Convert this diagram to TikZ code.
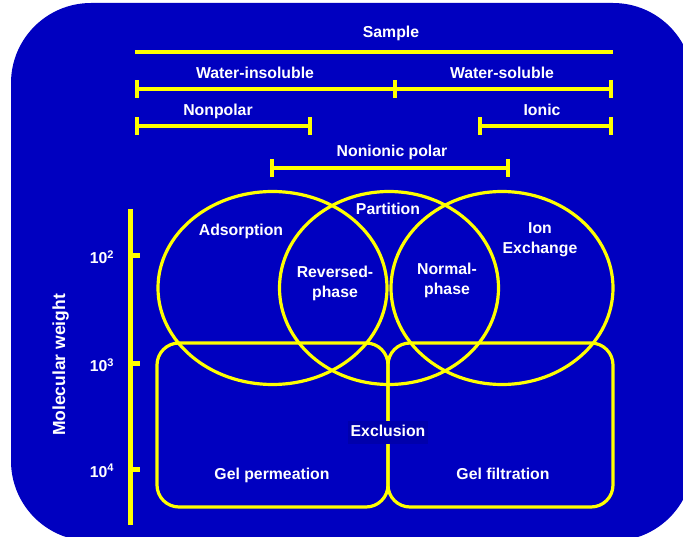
\documentclass[tikz,border=0pt]{standalone}
\usepackage{fontspec}
\setmainfont{Liberation Sans}
\usepackage{tikz}
\usetikzlibrary{positioning, arrows.meta}
\definecolor{slideblue}{RGB}{0,0,192}
\definecolor{boxblue}{RGB}{0,0,172}
\definecolor{hilite}{RGB}{255,255,0}

\tikzset{
  lbl/.style={text=white, font=\fontsize{15.8}{19}\selectfont\bfseries,
    inner sep=1pt, text height=11.5pt, text depth=3.5pt},
  spanline/.style={draw=hilite, line width=4pt},
  spanbar/.style={spanline, {Bar[width=18pt]}-{Bar[width=18pt]}},
  ring/.style={draw=hilite, line width=3.2pt},
  pane/.style={draw=hilite, line width=3.2pt, rounded corners=22pt}
}

\begin{document}
\begin{tikzpicture}[x=1pt, y=-1pt]
    \useasboundingbox (0,0) rectangle (683,537);
    \clip (0,0) rectangle (683,537);
    \fill[slideblue, rounded corners=80pt] (11,3) rectangle (693,541);

    % solubility ranges
    \node (sample) [lbl, anchor=base] at (391,38) {Sample};
    \node (insol) [lbl, anchor=base] at (255,79) {Water-insoluble};
    \node (sol) [lbl, anchor=base] at (502,79) {Water-soluble};
    \node (nonpolar) [lbl, anchor=base] at (218,116) {Nonpolar};
    \node (ionic) [lbl, anchor=base] at (542,116) {Ionic};
    \node (nonionic) [lbl, anchor=base] at (392,157) {Nonionic polar};

    \coordinate (s1) at (135,52.5);
    \coordinate (s2) at (613,52.5);
    \coordinate (w1) at (135,89);
    \coordinate (w2) at (395,89);
    \coordinate (w3) at (613,89);
    \coordinate (n1) at (135,126);
    \coordinate (n2) at (312,126);
    \coordinate (i1) at (478,126);
    \coordinate (i2) at (613,126);
    \coordinate (p1) at (270,168);
    \coordinate (p2) at (510,168);

    \draw[spanline] (s1) -- (s2);
    \draw[spanbar] (w1) -- (w3);
    \draw[spanline] ([yshift=-9pt]w2) -- ([yshift=9pt]w2);
    \draw[spanbar] (n1) -- (n2);
    \draw[spanbar] (i1) -- (i2);
    \draw[spanbar] (p1) -- (p2);

    % molecular weight axis
    \coordinate (top) at (130,209);
    \coordinate (bot) at (130,525);
    \draw[draw=hilite, line width=5pt] (top) -- (bot);
    \foreach \y/\e in {256/2, 364/3, 469/4} {
        \draw[draw=hilite, line width=5pt] (130,\y) -- (139.5,\y);
        \node (e\e) [lbl, anchor=base] at (102,\y+8) {10\textsuperscript{\e}};
    }
    \node (mw) [lbl, font=\fontsize{17.5}{19}\selectfont\bfseries, rotate=90, anchor=base] at (65,365) {Molecular weight};

    % separation modes
    \draw[pane] (157,343) rectangle (388,507);
    \draw[pane] (388,343) rectangle (613,507);
    \draw[ring] (272.5,288) ellipse [x radius=114.5, y radius=96.5];
    \draw[ring] (389,288) ellipse [x radius=109.5, y radius=96.5];
    \draw[ring] (502,288) ellipse [x radius=111, y radius=96.5];

    \node (adsorp) [lbl, anchor=base] at (241,236) {Adsorption};
    \node (partit) [lbl, anchor=base] at (388,215) {Partition};
    \node (revA) [lbl, anchor=base] at (335,278) {Reversed-};
    \node (revB) [lbl, below=2pt of revA] {phase};
    \node (normA) [lbl, anchor=base] at (447,275) {Normal-};
    \node (normB) [lbl, below=2pt of normA] {phase};
    \node (ionA) [lbl, anchor=base] at (540,234) {Ion};
    \node (ionB) [lbl, below=2pt of ionA] {Exchange};
    \node (gelperm) [lbl, anchor=base] at (272,479) {Gel permeation};
    \node (gelfilt) [lbl, anchor=base] at (503,479) {Gel filtration};
    \node (excl) [lbl, anchor=base, fill=boxblue, inner xsep=3pt, inner ysep=4pt] at (388,436) {Exclusion};
\end{tikzpicture}
\end{document}
